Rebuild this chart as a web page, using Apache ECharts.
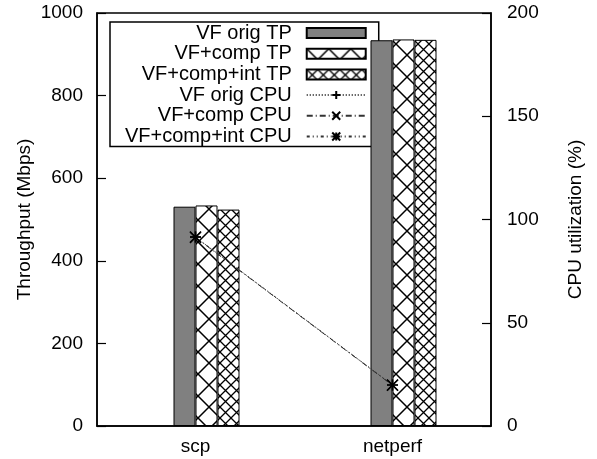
<!DOCTYPE html>
<html>
<head>
<meta charset="utf-8">
<script src="https://cdn.jsdelivr.net/npm/echarts@6/dist/echarts.min.js"></script>
<style>
  html, body { margin: 0; padding: 0; background: #fff; }
  #chart { width: 597px; height: 459px; }
</style>
</head>
<body>
<div id="chart"></div>
<script>
// data
var categories = ['scp', 'netperf'];
var tpOrig = [531, 934];
var tpComp = [534, 936];
var tpInt = [524, 935];
var cpuOrig = [91.5, 19.9];
var cpuComp = [91.3, 19.7];
var cpuInt = [91.5, 19.8];
var tpTicks = { min: 0, max: 1000, interval: 200 };
var cpuTicks = { min: 0, max: 200, interval: 50 };

var FONT = '"Liberation Sans", Arial, Helvetica, sans-serif';

// crosshatch tile for the bar fills
function hatch(size, lw) {
  var c = document.createElement('canvas');
  c.width = size;
  c.height = size;
  var ctx = c.getContext('2d');
  ctx.fillStyle = '#fff';
  ctx.fillRect(0, 0, size, size);
  ctx.strokeStyle = '#000';
  ctx.lineWidth = lw;
  ctx.beginPath();
  ctx.moveTo(0, 0); ctx.lineTo(size, size);
  ctx.moveTo(size, 0); ctx.lineTo(0, size);
  ctx.stroke();
  return { image: c, repeat: 'repeat' };
}

var plusPath = 'path://M0,5 L10,5 M5,0 L5,10';
var crossPath = 'path://M0,0 L10,10 M10,0 L0,10';
var starPath = 'path://M0,0 L10,10 M10,0 L0,10 M5,0 L5,10 M0,5 L10,5';

function barSeries(name, data, color) {
  return {
    name: name,
    type: 'bar',
    yAxisIndex: 0,
    barWidth: 22,
    barGap: '0%',
    data: data,
    itemStyle: { color: color, borderColor: '#000', borderWidth: 1 }
  };
}

function cpuSeries(name, data, dash, symbol) {
  return {
    name: name,
    type: 'line',
    yAxisIndex: 1,
    data: data,
    symbol: symbol,
    symbolSize: 11,
    z: 5,
    lineStyle: { color: '#333', width: 1, type: dash },
    itemStyle: { color: '#000', borderColor: '#000', borderWidth: 1.4 }
  };
}

var plain = function (v) { return String(v); };

var chart = echarts.init(document.getElementById('chart'));
var option = {
  animation: false,
  textStyle: { fontFamily: FONT },
  grid: {
    left: 97, right: 106, top: 13, bottom: 33,
    show: true, borderColor: '#000', borderWidth: 1.5
  },
  legend: {
    left: 110,
    top: 22,
    z: 1,
    orient: 'vertical',
    align: 'right',
    itemWidth: 59,
    itemHeight: 10,
    itemGap: 0.7,
    padding: [1, 12, 0, 15],
    borderColor: '#000',
    borderWidth: 1.5,
    backgroundColor: '#fff',
    selectedMode: false,
    textStyle: { fontSize: 20, color: '#000', fontFamily: FONT, padding: [0, 10, 0, 0] },
    data: [
      { name: 'VF orig TP', icon: 'rect' },
      { name: 'VF+comp TP', icon: 'rect' },
      { name: 'VF+comp+int TP', icon: 'rect' },
      'VF orig CPU',
      'VF+comp CPU',
      'VF+comp+int CPU'
    ]
  },
  xAxis: {
    type: 'category',
    data: categories,
    axisTick: { show: false },
    axisLine: { lineStyle: { color: '#000', width: 1.5 } },
    axisLabel: { color: '#000', fontSize: 19, margin: 11, fontFamily: FONT }
  },
  yAxis: [
    {
      type: 'value',
      min: tpTicks.min, max: tpTicks.max, interval: tpTicks.interval,
      name: 'Throughput (Mbps)',
      nameLocation: 'middle',
      nameGap: 63,
      nameMoveOverlap: false,
      nameTextStyle: { color: '#000', fontSize: 19, fontFamily: FONT },
      axisLine: { show: true, lineStyle: { color: '#000', width: 1.5 } },
      axisTick: { show: true, inside: true, length: 9, lineStyle: { color: '#000', width: 1.2 } },
      axisLabel: { color: '#000', fontSize: 19, margin: 14, fontFamily: FONT, formatter: plain },
      splitLine: { show: false }
    },
    {
      type: 'value',
      position: 'right',
      min: cpuTicks.min, max: cpuTicks.max, interval: cpuTicks.interval,
      name: 'CPU utilization (%)',
      nameLocation: 'middle',
      nameGap: 75,
      nameMoveOverlap: false,
      nameTextStyle: { color: '#000', fontSize: 19, fontFamily: FONT },
      axisLine: { show: true, lineStyle: { color: '#000', width: 1.5 } },
      axisTick: { show: true, inside: true, length: 9, lineStyle: { color: '#000', width: 1.2 } },
      axisLabel: { color: '#000', fontSize: 19, margin: 16, fontFamily: FONT, formatter: plain },
      splitLine: { show: false }
    }
  ],
  series: [
    // empty slot so the bar group starts half a bar left of the tick, as in the original
    { name: 'pad', type: 'bar', yAxisIndex: 0, barWidth: 22, barGap: '0%', data: [null, null] },
    barSeries('VF orig TP', tpOrig, '#808080'),
    barSeries('VF+comp TP', tpComp, hatch(22, 1.5)),
    barSeries('VF+comp+int TP', tpInt, hatch(11, 1.3)),
    cpuSeries('VF orig CPU', cpuOrig, [1, 2], plusPath),
    cpuSeries('VF+comp CPU', cpuComp, [6, 3, 1, 3], crossPath),
    cpuSeries('VF+comp+int CPU', cpuInt, [3, 3, 1, 3, 1, 3], starPath)
  ]
};
chart.setOption(option);
</script>
</body>
</html>
